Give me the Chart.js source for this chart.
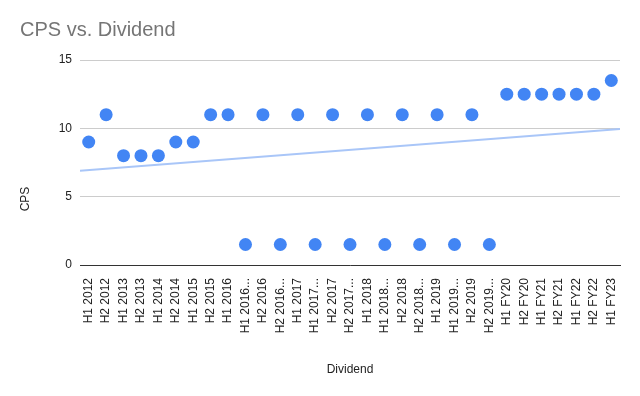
<!DOCTYPE html>
<html>
<head>
<meta charset="utf-8">
<script src="https://cdn.jsdelivr.net/npm/chart.js@4"></script>
<style>
  body { margin: 0; background: #fff; }
  canvas { display: block; }
</style>
</head>
<body>
<canvas id="cpsChart" width="640" height="396"></canvas>
<script>
const periods = [
  'H1 2012', 'H2 2012', 'H1 2013', 'H2 2013', 'H1 2014', 'H2 2014', 'H1 2015', 'H2 2015',
  'H1 2016', 'H1 2016...', 'H2 2016', 'H2 2016...', 'H1 2017', 'H1 2017...', 'H2 2017', 'H2 2017...',
  'H1 2018', 'H1 2018...', 'H2 2018', 'H2 2018...', 'H1 2019', 'H1 2019...', 'H2 2019', 'H2 2019...',
  'H1 FY20', 'H2 FY20', 'H1 FY21', 'H2 FY21', 'H1 FY22', 'H2 FY22', 'H1 FY23'
];
const cps = [
  9, 11, 8, 8, 8, 9, 9, 11,
  11, 1.5, 11, 1.5, 11, 1.5, 11, 1.5,
  11, 1.5, 11, 1.5, 11, 1.5, 11, 1.5,
  12.5, 12.5, 12.5, 12.5, 12.5, 12.5, 13.5
];
// trendline read at the left and right edges of the plot
const trendEnds = [6.9, 9.95];
const yTicks = [0, 5, 10, 15];

const font = "Arial, 'Liberation Sans', sans-serif";

// y axis title sits lower than the scale centre in the original
const yTitlePlugin = {
  id: 'yTitle',
  afterDraw(chart) {
    const ctx = chart.ctx;
    ctx.save();
    ctx.translate(26, 199);
    ctx.rotate(-Math.PI / 2);
    ctx.font = '12px ' + font;
    ctx.fillStyle = '#222';
    ctx.textAlign = 'center';
    ctx.textBaseline = 'middle';
    ctx.fillText('CPS', 0, 0);
    ctx.restore();
  }
};

const ctx = document.getElementById('cpsChart').getContext('2d');
new Chart(ctx, {
  type: 'line',
  data: {
    labels: periods,
    datasets: [{
      label: 'CPS',
      data: cps,
      showLine: false,
      pointRadius: 6.5,
      pointHoverRadius: 6.5,
      pointBackgroundColor: '#4285f4',
      pointBorderWidth: 0,
      borderColor: '#4285f4',
      order: 0
    }, {
      label: 'Trendline',
      xAxisID: 'xt',
      data: [{ x: -0.5, y: trendEnds[0] }, { x: periods.length - 0.5, y: trendEnds[1] }],
      borderColor: '#a9c6f8',
      borderWidth: 2,
      pointRadius: 0,
      order: 1
    }]
  },
  options: {
    responsive: false,
    animation: false,
    layout: { padding: { left: 20, right: 20, top: 0, bottom: 0 } },
    plugins: {
      legend: { display: false },
      tooltip: { enabled: false },
      title: {
        display: true,
        text: 'CPS vs. Dividend',
        align: 'start',
        color: '#757575',
        font: { family: font, size: 20, weight: 'normal' },
        padding: { top: 18, bottom: 18 }
      }
    },
    scales: {
      x: {
        type: 'category',
        offset: true,
        grid: { display: false },
        border: { display: true, color: '#333', width: 1 },
        ticks: {
          autoSkip: false,
          minRotation: 90,
          maxRotation: 90,
          padding: 5,
          color: '#222',
          font: { family: font, size: 12 }
        },
        title: {
          display: true,
          text: 'Dividend',
          color: '#222',
          font: { family: font, size: 12 },
          padding: { top: 0, bottom: 19 }
        },
        afterFit(scale) { scale.height = 131; }
      },
      xt: {
        type: 'linear',
        display: false,
        min: -0.5,
        max: periods.length - 0.5
      },
      y: {
        min: yTicks[0],
        max: yTicks[yTicks.length - 1],
        afterBuildTicks(scale) { scale.ticks = yTicks.map(v => ({ value: v })); },
        grid: { color: '#cccccc', drawTicks: false },
        border: { display: false },
        ticks: {
          padding: 8,
          color: '#222',
          font: { family: font, size: 12 }
        },
        afterFit(scale) { scale.width = 60; }
      }
    }
  },
  plugins: [yTitlePlugin]
});
</script>
</body>
</html>
